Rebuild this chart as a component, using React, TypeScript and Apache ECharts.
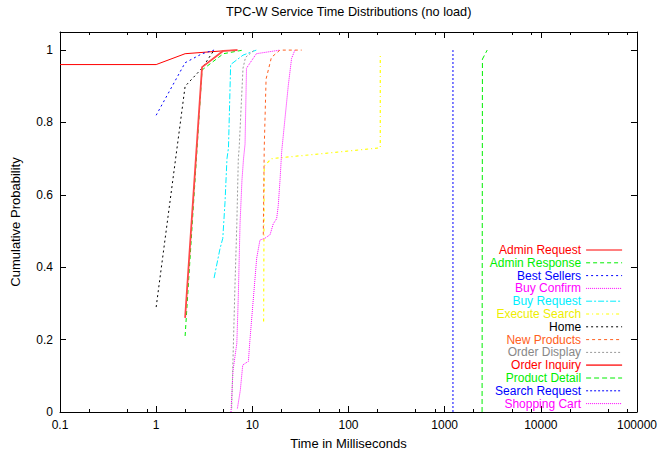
import React, { useEffect, useRef } from "react";
import * as echarts from "echarts";

// Series names (legend order)
const seriesNames = [
  "Admin Request",
  "Admin Response",
  "Best Sellers",
  "Buy Confirm",
  "Buy Request",
  "Execute Search",
  "Home",
  "New Products",
  "Order Display",
  "Order Inquiry",
  "Product Detail",
  "Search Request",
  "Shopping Cart",
];

// [time in ms, cumulative probability]
const adminRequest = [[0.1, 0.96], [1, 0.96], [2, 0.99], [5, 0.998], [7, 1.0]];
const adminResponse = [[2, 0.21], [3, 0.945], [5, 0.99], [8, 1.0]];
const bestSellers = [[1, 0.82], [2, 0.965], [3, 0.99], [4, 1.0]];
const buyConfirm = [
  [6.0, 0.0], [6.3, 0.115], [6.9, 0.19], [7.15, 0.32], [7.45, 0.52], [7.8, 0.64],
  [8.1, 0.7], [8.4, 0.74], [8.7, 0.95], [11, 0.99], [19.4, 1.0],
];
const buyRequest = [
  [4, 0.37], [4.6, 0.45], [4.93, 0.48], [5.2, 0.58], [5.45, 0.7], [5.65, 0.73],
  [5.95, 0.96], [8, 0.986], [11, 1.0],
];
const executeSearch = [[13.1, 0.25], [13.3, 0.68], [15.8, 0.7], [214, 0.73], [214, 0.99]];
const home = [[1, 0.29], [2, 0.9], [3, 0.95], [4, 1.0]];
const newProducts = [[13, 0.49], [13.3, 0.73], [13.9, 0.92], [15.8, 0.98], [19.4, 1.0], [32.6, 1.0]];
const orderDisplay = [
  [6.1, 0.01], [6.25, 0.115], [6.6, 0.35], [6.9, 0.52], [7.15, 0.7], [7.3, 0.73],
  [8, 0.95], [8.5, 0.98], [10.5, 1.0],
];
const orderInquiry = [[2, 0.26], [3, 0.953], [5, 0.998], [7, 1.0]];
const productDetail = [[2450, 0.0], [2470, 0.975], [2770, 1.0]];
const searchRequest = [[1220, 0.0], [1220, 1.0]];
const shoppingCart = [
  [7.0, 0.01], [7.5, 0.06], [7.95, 0.13], [9.1, 0.14], [9.45, 0.2], [11.1, 0.425],
  [12, 0.475], [13.5, 0.48], [15.3, 0.49], [16.5, 0.52], [17.9, 0.534], [18.6, 0.57],
  [19.4, 0.64], [20.2, 0.72], [23.7, 0.904], [25.6, 0.977], [27.7, 1.0],
];

const seriesData = [
  adminRequest, adminResponse, bestSellers, buyConfirm, buyRequest, executeSearch, home,
  newProducts, orderDisplay, orderInquiry, productDetail, searchRequest, shoppingCart,
];

// Tick values / labels
const xMajorTicks = [0.1, 1, 10, 100, 1000, 10000, 100000];
const xMinorTicks = [0.2, 0.5, 0.8, 2, 5, 8, 20, 50, 80, 200, 500, 800, 2000, 5000, 8000, 20000, 50000, 80000];
const yTicks = [0, 0.2, 0.4, 0.6, 0.8, 1];

// Styles
const lineColors = [
  "#ff0000", "#00ee00", "#0000ff", "#ff00ff", "#00eeff", "#ffff00", "#000000",
  "#ff6020", "#999999", "#ff4848", "#00ee00", "#0000ff", "#ff00ff",
];
const textColors = [
  "#ff0000", "#00ee00", "#0000ff", "#ff00ff", "#00eeff", "#eeee00", "#000000",
  "#ff6020", "#888888", "#ff0000", "#00ee00", "#0000ff", "#ff00ff",
];
const lineDashes: any[] = [
  "solid", [4, 3], [2, 3], [1, 1], [6, 2, 2, 2], [3, 3, 1, 3], [2, 3],
  [3, 3], [2, 2], "solid", [5, 3], [2, 2], [1, 1],
];
const lineWidths = [1, 1, 1, 1, 1, 1.2, 1, 1, 1, 1.8, 1, 1, 1];

const FONT = "Liberation Sans, Arial, Helvetica, sans-serif";

export default function App() {
  const ref = useRef<HTMLDivElement>(null);

  useEffect(() => {
    document.body.style.margin = "0";
    const chart = echarts.init(ref.current!, null, { renderer: "svg" });

    const baseLog = {
      type: "log",
      logBase: 10,
      min: 0.1,
      max: 100000,
      gridIndex: 0,
      splitLine: { show: false },
    };

    const option: any = {
      animation: false,
      backgroundColor: "#ffffff",
      textStyle: { fontFamily: FONT },
      title: {
        text: "TPC-W Service Time Distributions (no load)",
        left: 226,
        top: 5,
        padding: 0,
        textStyle: { fontFamily: FONT, fontSize: 12.7, fontWeight: "normal", color: "#000" },
      },
      grid: { left: 60, right: 22, top: 32, bottom: 40, containLabel: false },
      legend: {
        orient: "vertical",
        right: 37,
        top: 244,
        align: "right",
        padding: 0,
        itemWidth: 36,
        itemHeight: 10,
        itemGap: 0.8,
        itemStyle: { opacity: 0 },
        lineStyle: { width: 1 },
        textStyle: { fontFamily: FONT, fontSize: 12 },
        data: seriesNames.map((n, i) => ({
          name: n,
          textStyle: { color: textColors[i] },
          itemStyle: { opacity: 0 },
          lineStyle: { width: lineWidths[i] },
        })),
      },
      xAxis: [
        {
          ...baseLog,
          position: "bottom",
          name: "Time in Milliseconds",
          nameLocation: "middle",
          nameGap: 25,
          nameTextStyle: { fontFamily: FONT, fontSize: 13, color: "#000" },
          axisLine: { show: true, onZero: false, lineStyle: { color: "#000", width: 1 } },
          axisTick: { show: true, inside: true, length: 6, customValues: xMajorTicks, lineStyle: { color: "#000" } },
          axisLabel: {
            show: true,
            customValues: xMajorTicks,
            margin: 7,
            fontFamily: FONT,
            fontSize: 12,
            color: "#000",
            formatter: (v: number) => String(v),
          },
        },
        {
          ...baseLog,
          position: "bottom",
          axisLine: { show: false, onZero: false },
          axisTick: { show: true, inside: true, length: 3, customValues: xMinorTicks, lineStyle: { color: "#000" } },
          axisLabel: { show: false },
        },
        {
          ...baseLog,
          position: "top",
          axisLine: { show: true, onZero: false, lineStyle: { color: "#000", width: 1 } },
          axisTick: { show: true, inside: true, length: 6, customValues: xMajorTicks, lineStyle: { color: "#000" } },
          axisLabel: { show: false },
        },
        {
          ...baseLog,
          position: "top",
          axisLine: { show: false, onZero: false },
          axisTick: { show: true, inside: true, length: 3, customValues: xMinorTicks, lineStyle: { color: "#000" } },
          axisLabel: { show: false },
        },
      ],
      yAxis: [
        {
          type: "value",
          min: 0,
          max: 1.05,
          position: "left",
          name: "Cumulative Probability",
          nameLocation: "middle",
          nameGap: 38,
          nameRotate: 90,
          nameTextStyle: { fontFamily: FONT, fontSize: 13, color: "#000" },
          splitLine: { show: false },
          axisLine: { show: true, onZero: false, lineStyle: { color: "#000", width: 1 } },
          axisTick: { show: true, inside: true, length: 6, customValues: yTicks, lineStyle: { color: "#000" } },
          axisLabel: {
            show: true,
            customValues: yTicks,
            margin: 7,
            fontFamily: FONT,
            fontSize: 12,
            color: "#000",
            formatter: (v: number) => String(v),
          },
        },
        {
          type: "value",
          min: 0,
          max: 1.05,
          position: "right",
          splitLine: { show: false },
          axisLine: { show: true, onZero: false, lineStyle: { color: "#000", width: 1 } },
          axisTick: { show: true, inside: true, length: 6, customValues: yTicks, lineStyle: { color: "#000" } },
          axisLabel: { show: false },
        },
      ],
      series: seriesNames.map((name, i) => ({
        name,
        type: "line",
        xAxisIndex: 0,
        yAxisIndex: 0,
        data: seriesData[i],
        symbol: "none",
        showSymbol: false,
        color: lineColors[i],
        itemStyle: { color: lineColors[i] },
        lineStyle: { color: lineColors[i], width: lineWidths[i], type: lineDashes[i] },
        emphasis: { disabled: true },
      })),
    };

    chart.setOption(option);
    return () => chart.dispose();
  }, []);

  return <div ref={ref} style={{ width: 660, height: 455, position: "absolute", left: 0, top: 0 }} />;
}
